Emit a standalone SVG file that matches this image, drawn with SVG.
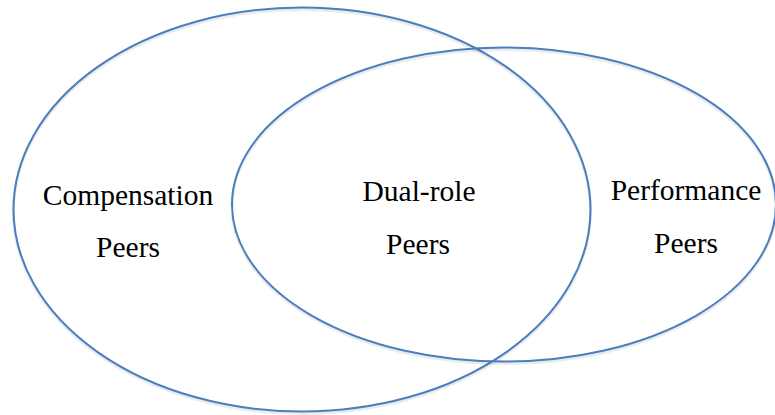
<svg xmlns="http://www.w3.org/2000/svg" width="775" height="415" viewBox="0 0 775 415">
  <style>
    .set { fill: none; stroke: #4a7ebf; stroke-width: 2; }
    .shadow { fill: none; stroke: #000; stroke-opacity: 0.08; stroke-width: 3; }
    .lbl { font-family: "Liberation Serif", "Times New Roman", serif; font-size: 29.5px; fill: #000; text-anchor: middle; }
  </style>
  <rect width="775" height="415" fill="#ffffff"/>
  <g id="compensation">
    <ellipse class="shadow" cx="302" cy="211.5" rx="288.5" ry="202"/>
    <ellipse class="set" cx="302" cy="209.5" rx="288.5" ry="202"/>
    <text class="lbl" x="128" y="205">Compensation</text>
    <text class="lbl" x="128" y="257">Peers</text>
  </g>
  <g id="performance">
    <ellipse class="shadow" cx="504" cy="206.5" rx="272" ry="157"/>
    <ellipse class="set" cx="504" cy="204.5" rx="272" ry="157"/>
    <text class="lbl" x="686" y="200">Performance</text>
    <text class="lbl" x="686" y="253">Peers</text>
  </g>
  <g id="dual-role">
    <text class="lbl" x="419" y="201">Dual-role</text>
    <text class="lbl" x="418" y="254">Peers</text>
  </g>
  <g id="connectors"></g>
</svg>
